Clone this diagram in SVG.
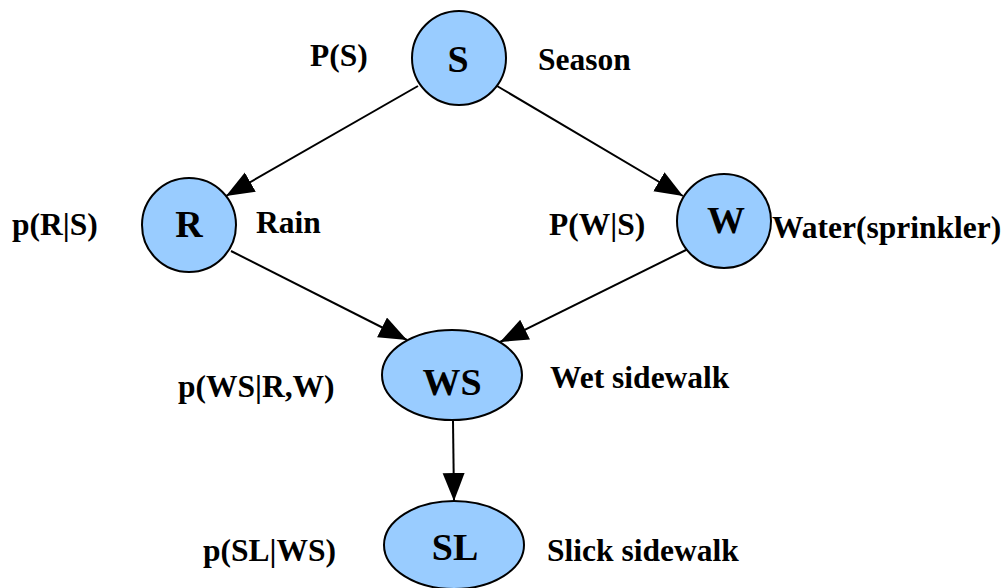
<svg xmlns="http://www.w3.org/2000/svg" width="1006" height="588" viewBox="0 0 1006 588">
  <style>
    .node { fill: #99CCFF; stroke: #000; stroke-width: 2; }
    .nlabel { font-family: "Liberation Serif", "Times New Roman", serif; font-weight: bold; font-size: 38px; fill: #000; text-anchor: middle; }
    .label { font-family: "Liberation Serif", "Times New Roman", serif; font-weight: bold; font-size: 31.5px; fill: #000; }
    .edge { stroke: #000; stroke-width: 2; fill: none; marker-end: url(#arrow); }
  </style>
  <defs>
    <marker id="arrow" markerUnits="userSpaceOnUse" markerWidth="30" markerHeight="24" refX="28" refY="11" orient="auto">
      <path d="M0,0 L28,11 L0,22 Z" fill="#000"/>
    </marker>
  </defs>
  <rect width="1006" height="588" fill="#fff"/>

  <!-- connectors -->
  <g id="edges">
    <line class="edge" x1="418" y1="86" x2="226" y2="196"/>
    <line class="edge" x1="497" y1="86" x2="683" y2="196"/>
    <line class="edge" x1="231" y1="251" x2="407" y2="340"/>
    <line class="edge" x1="690" y1="248" x2="500" y2="342"/>
    <line class="edge" x1="453" y1="421" x2="454" y2="501"/>
  </g>

  <g id="node-S">
    <circle class="node" cx="459" cy="58" r="47"/>
    <text class="nlabel" x="458" y="72">S</text>
  </g>
  <g id="node-R">
    <circle class="node" cx="189" cy="225" r="47"/>
    <text class="nlabel" x="189" y="237">R</text>
  </g>
  <g id="node-W">
    <circle class="node" cx="724" cy="221" r="47"/>
    <text class="nlabel" x="726" y="233">W</text>
  </g>
  <g id="node-WS">
    <ellipse class="node" cx="452" cy="375" rx="70" ry="45"/>
    <text class="nlabel" x="452" y="395">WS</text>
  </g>
  <g id="node-SL">
    <ellipse class="node" cx="454" cy="545" rx="70" ry="44"/>
    <text class="nlabel" x="455" y="560">SL</text>
  </g>

  <!-- probability and meaning labels -->
  <g id="labels">
    <text class="label" x="310" y="66">P(S)</text>
    <text class="label" x="538" y="70">Season</text>
    <text class="label" x="12" y="235">p(R|S)</text>
    <text class="label" x="256" y="233">Rain</text>
    <text class="label" x="549" y="235">P(W|S)</text>
    <text class="label" x="772" y="238">Water(sprinkler)</text>
    <text class="label" x="178" y="397">p(WS|R,W)</text>
    <text class="label" x="550" y="388">Wet sidewalk</text>
    <text class="label" x="203" y="561">p(SL|WS)</text>
    <text class="label" x="547" y="561">Slick sidewalk</text>
  </g>
</svg>
